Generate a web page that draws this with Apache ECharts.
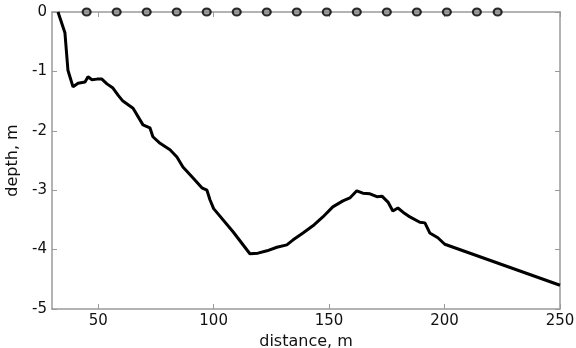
<!DOCTYPE html>
<html>
<head>
<meta charset="utf-8">
<script src="https://cdn.jsdelivr.net/npm/echarts@6/dist/echarts.min.js"></script>
<style>html,body{margin:0;padding:0;background:#fff}#c{width:576px;height:348px}</style>
</head>
<body>
<div id="c"></div>
<script>
const profileX = [32.6,35.6,36.9,39.1,41.3,44.3,45.6,47.3,49.5,51.6,53.8,56.4,58.6,60.7,65.1,69.4,72.4,73.7,76.8,81.1,84.1,86.7,91.0,94.9,97.1,98.4,100.0,108.4,115.7,119.2,123.1,127.4,131.7,134.3,138.7,143.0,147.3,151.6,156.0,159.0,162.0,164.6,167.7,170.7,172.9,175.5,177.6,179.8,182.0,185.0,189.3,191.5,193.6,197.1,200.1,250.0];
const profileDepth = [0,-0.35,-0.98,-1.26,-1.20,-1.18,-1.09,-1.14,-1.13,-1.13,-1.21,-1.28,-1.40,-1.50,-1.62,-1.90,-1.95,-2.10,-2.21,-2.32,-2.44,-2.61,-2.79,-2.96,-3.00,-3.16,-3.31,-3.70,-4.07,-4.06,-4.02,-3.96,-3.92,-3.84,-3.72,-3.60,-3.45,-3.28,-3.18,-3.13,-3.01,-3.05,-3.06,-3.11,-3.10,-3.20,-3.35,-3.30,-3.37,-3.45,-3.54,-3.55,-3.72,-3.80,-3.91,-4.60];
const sensorX = [45,58,71,84,97,110,123,136,149,162,175,188,201,214,223];
const sensorDepth = [0,0,0,0,0,0,0,0,0,0,0,0,0,0,0];
const xTicks = [50,100,150,200,250];
const yTicks = [-5,-4,-3,-2,-1,0];

const chart = echarts.init(document.getElementById('c'));
const axisCol = '#9a9a9a';
const font = 'DejaVu Sans, sans-serif';
chart.setOption({
  animation: false,
  grid: {left: 52, right: 16, top: 12, bottom: 39, outerBoundsMode: 'none', containLabel: false},
  xAxis: [{
    type: 'value', min: 30, max: 250,
    name: 'distance, m', nameLocation: 'middle', nameGap: 21,
    nameTextStyle: {color: '#111', fontSize: 16, fontFamily: font},
    axisLine: {onZero: false, lineStyle: {color: axisCol, width: 1.5}},
    axisTick: {inside: true, length: 5, customValues: xTicks, lineStyle: {color: axisCol}},
    axisLabel: {customValues: xTicks, color: '#111', fontSize: 15, fontFamily: font, margin: 5},
    splitLine: {show: false}
  }, {
    type: 'value', min: 30, max: 250, position: 'top',
    axisLine: {onZero: false, lineStyle: {color: axisCol, width: 1.5}},
    axisTick: {inside: true, length: 5, customValues: xTicks, lineStyle: {color: axisCol}},
    axisLabel: {show: false},
    splitLine: {show: false}
  }],
  yAxis: [{
    type: 'value', min: -5, max: 0, interval: 1,
    name: 'depth, m', nameLocation: 'middle', nameGap: 26,
    nameTextStyle: {color: '#111', fontSize: 16, fontFamily: font},
    axisLine: {show: true, onZero: false, lineStyle: {color: axisCol, width: 1.5}},
    axisTick: {show: true, inside: true, length: 5, lineStyle: {color: axisCol}},
    axisLabel: {customValues: yTicks, color: '#111', fontSize: 15, fontFamily: font, margin: 5},
    splitLine: {show: false}
  }, {
    type: 'value', min: -5, max: 0, interval: 1, position: 'right',
    axisLine: {show: true, onZero: false, lineStyle: {color: axisCol, width: 1.5}},
    axisTick: {show: true, inside: true, length: 5, lineStyle: {color: axisCol}},
    axisLabel: {show: false},
    splitLine: {show: false}
  }],
  series: [{
    type: 'line',
    data: profileX.map((x, i) => [x, profileDepth[i]]),
    showSymbol: false, symbol: 'none',
    lineStyle: {color: '#000', width: 3},
    z: 3
  }, {
    type: 'scatter',
    data: sensorX.map((x, i) => [x, sensorDepth[i]]),
    symbol: 'circle', symbolSize: [8, 7],
    itemStyle: {color: '#8a8a8a', borderColor: '#000', borderWidth: 2},
    clip: false, z: 5
  }]
});
</script>
</body>
</html>
